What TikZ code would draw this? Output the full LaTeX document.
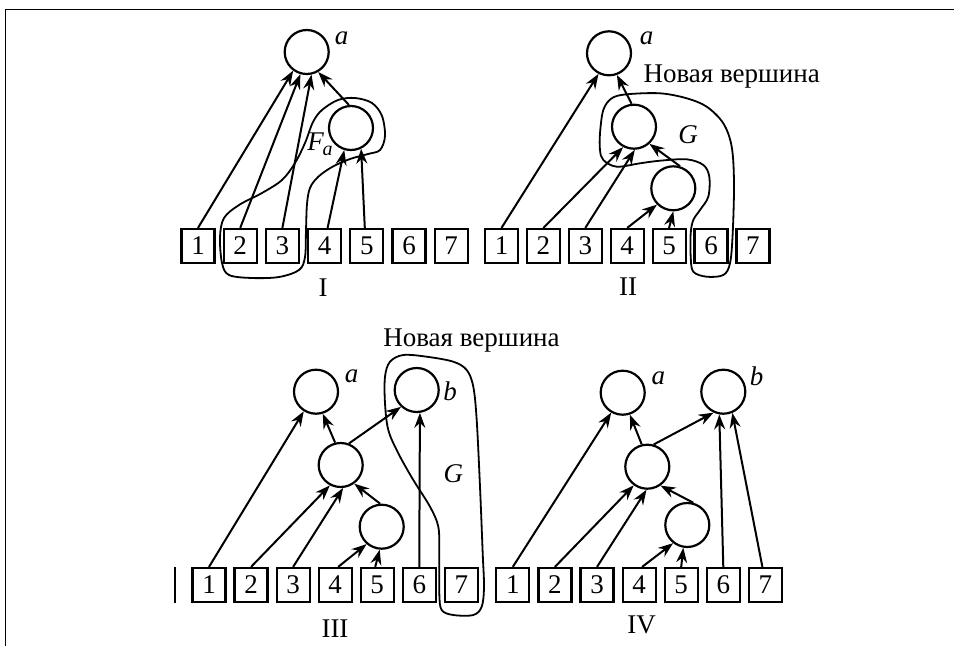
\documentclass[tikz,border=0pt]{standalone}
\usepackage{fontspec}
\setmainfont{Liberation Serif}
\usetikzlibrary{arrows.meta}
\begin{document}
\begin{tikzpicture}[x=1pt,y=-1pt,
  vertex/.style={circle,draw,line width=2.2pt,minimum size=44pt,inner sep=0pt},
  leaf/.style={rectangle,draw,line width=2.2pt,minimum width=33pt,minimum height=34pt,inner sep=0pt,font=\fontsize{27}{27}\selectfont},
  link/.style={line width=2pt,-{Stealth[length=15pt,width=11pt,inset=5pt]}},
  region/.style={line width=1.8pt},
  lbl/.style={inner sep=0pt,font=\fontsize{27}{27}\selectfont\itshape},
  plain/.style={inner sep=0pt,font=\fontsize{27}{27}\selectfont},
]
\useasboundingbox (0,0) rectangle (954,646);
% frame
\draw[line width=1.8pt] (5.5,646) -- (5.5,9.5) -- (954,9.5);

% ---------- I ----------
\foreach \i in {1,...,7}
  \node[leaf] (p1b\i) at ({198+42.2*(\i-1)},246) {\i};
\node[vertex] (p1a) at (306.7,52) {};
\node[lbl] (p1al) at (341.7,38) {a};
\node[vertex] (p1f) at (351,128) {};
\node[lbl,anchor=base] (p1fl) at (320,150) {F\kern-1pt\raisebox{-5pt}{\fontsize{20}{20}\selectfont a}};
\draw[link] (p1b1.north) -- (p1a.234);
\draw[link] (p1b2.north) -- (p1a.254);
\draw[link] (p1b3.north) -- (p1a.282);
\draw[link] (p1f.95) -- (p1a.300);
\draw[link] ([xshift=3pt]p1b4.north) -- (p1f.253);
\draw[link] ([xshift=-2pt]p1b5.north) -- (p1f.296);
\draw[region] plot[smooth cycle,tension=0.55] coordinates {
  (313,122) (322,110) (338,100) (355,98) (372,103) (382,116) (385,136)
  (380,150) (368,154) (350,159) (332,167) (318,177) (310,188) (307,204)
  (306,230) (305,257) (299,270) (279,277) (252,278) (229,275) (222,263)
  (220,237) (224,218) (239,205) (262,193) (282,180) (295,163) (305,143)};
\node[plain] (p1n) at (323,288) {I};

% ---------- II ----------
\foreach \i in {1,...,7}
  \node[leaf] (p2b\i) at ({501.5+41.9*(\i-1)},246) {\i};
\node[vertex] (p2a) at (609,53.3) {};
\node[lbl] (p2al) at (646.7,38) {a};
\node[vertex] (p2g) at (634,126.7) {};
\node[lbl] (p2gl) at (688,135) {G};
\node[vertex] (p2s) at (673.3,188.3) {};
\node[plain,anchor=base] (p2t) at (731.7,82) {Новая вершина};
\draw[link] (p2b1.north) -- (p2a.243);
\draw[link] (p2g.96) -- (p2a.290);
\draw[link] (p2b2.north) -- (p2g.242);
\draw[link] (p2b3.north) -- (p2g.272);
\draw[link] (p2s.73) -- (p2g.312);
\draw[link] (p2b4.north) -- (p2s.225);
\draw[link] (p2b5.north) -- (p2s.270);
\draw[region] plot[smooth cycle,tension=0.55] coordinates {
  (616.7,166.7) (640,163.3) (660,160.7) (686.7,159.3) (703.3,165)
  (709.3,176.7) (708.3,196.7) (700,210) (693.3,220) (690.7,233.3)
  (690.7,256.7) (693.3,271.7) (706.7,276.7) (723.3,275) (730,263.3)
  (732.7,233.3) (734,183.3) (731.7,146.7) (723.3,123.3) (706.7,106.7)
  (686.7,98.3) (660,93.3) (626.7,94.3) (611.7,98.3) (603.3,110)
  (600,133.3) (600,150) (603.3,160)};
\node[plain] (p2n) at (628,287) {II};

% ---------- III ----------
\draw[line width=1.8pt] (175,567) -- (175,603);
\foreach \i in {1,...,7}
  \node[leaf] (p3b\i) at ({209+42.05*(\i-1)},585) {\i};
\node[vertex] (p3a) at (316,391.7) {};
\node[lbl] (p3al) at (351.7,376.7) {a};
\node[vertex] (p3b) at (416.7,390) {};
\node[lbl] (p3bl) at (450,391.7) {b};
\node[vertex] (p3m) at (340.7,465) {};
\node[vertex] (p3s) at (381.7,526.7) {};
\node[lbl] (p3gl) at (453.3,473.3) {G};
\node[plain,anchor=base] (p3t) at (471.5,346.5) {Новая вершина};
\draw[link] (p3b1.north) -- (p3a.238);
\draw[link] (p3m.104) -- (p3a.287);
\draw[link] (p3m.69) -- (p3b.227);
\draw[link] (p3b6.north) -- (p3b.278);
\draw[link] (p3b2.north) -- (p3m.242);
\draw[link] (p3b3.north) -- (p3m.276);
\draw[link] (p3s.94) -- (p3m.306);
\draw[link] ([xshift=3pt]p3b4.north) -- (p3s.229);
\draw[link] ([xshift=-2pt]p3b5.north) -- (p3s.265);
\draw[region] plot[smooth cycle,tension=0.55] coordinates {
  (390,361.7) (403.3,355) (426.7,356.7) (453.3,361.7) (466.7,370)
  (473.3,386.7) (476.7,420) (480,486.7) (482.7,553.3) (484,586.7)
  (481.7,606.7) (473.3,615) (453.3,615) (441.7,610) (439.3,593.3)
  (439.3,553.3) (438.3,526.7) (430,506.7) (413.3,480) (398.3,453.3)
  (388.3,430) (385,403.3) (385,376.7)};
\node[plain] (p3n) at (335,628.3) {III};

% ---------- IV ----------
\foreach \i in {1,...,7}
  \node[leaf] (p4b\i) at ({512.8+42.1*(\i-1)},585) {\i};
\node[vertex] (p4a) at (622.7,392.7) {};
\node[lbl] (p4al) at (658.3,378.3) {a};
\node[vertex] (p4b) at (723.3,391.7) {};
\node[lbl] (p4bl) at (756.7,376.7) {b};
\node[vertex] (p4m) at (647.3,466.7) {};
\node[vertex] (p4s) at (687.3,525) {};
\draw[link] (p4b1.north) -- (p4a.240);
\draw[link] (p4m.104) -- (p4a.288);
\draw[link] (p4m.74) -- (p4b.245);
\draw[link] (p4b6.north) -- (p4b.260);
\draw[link] ([xshift=-3pt]p4b7.north) -- (p4b.293);
\draw[link] (p4b2.north) -- (p4m.234);
\draw[link] (p4b3.north) -- (p4m.268);
\draw[link] (p4s.75) -- (p4m.305);
\draw[link] ([xshift=3pt]p4b4.north) -- (p4s.232);
\draw[link] (p4b5.north) -- (p4s.260);
\node[plain] (p4n) at (641.7,625) {IV};
\end{tikzpicture}
\end{document}
